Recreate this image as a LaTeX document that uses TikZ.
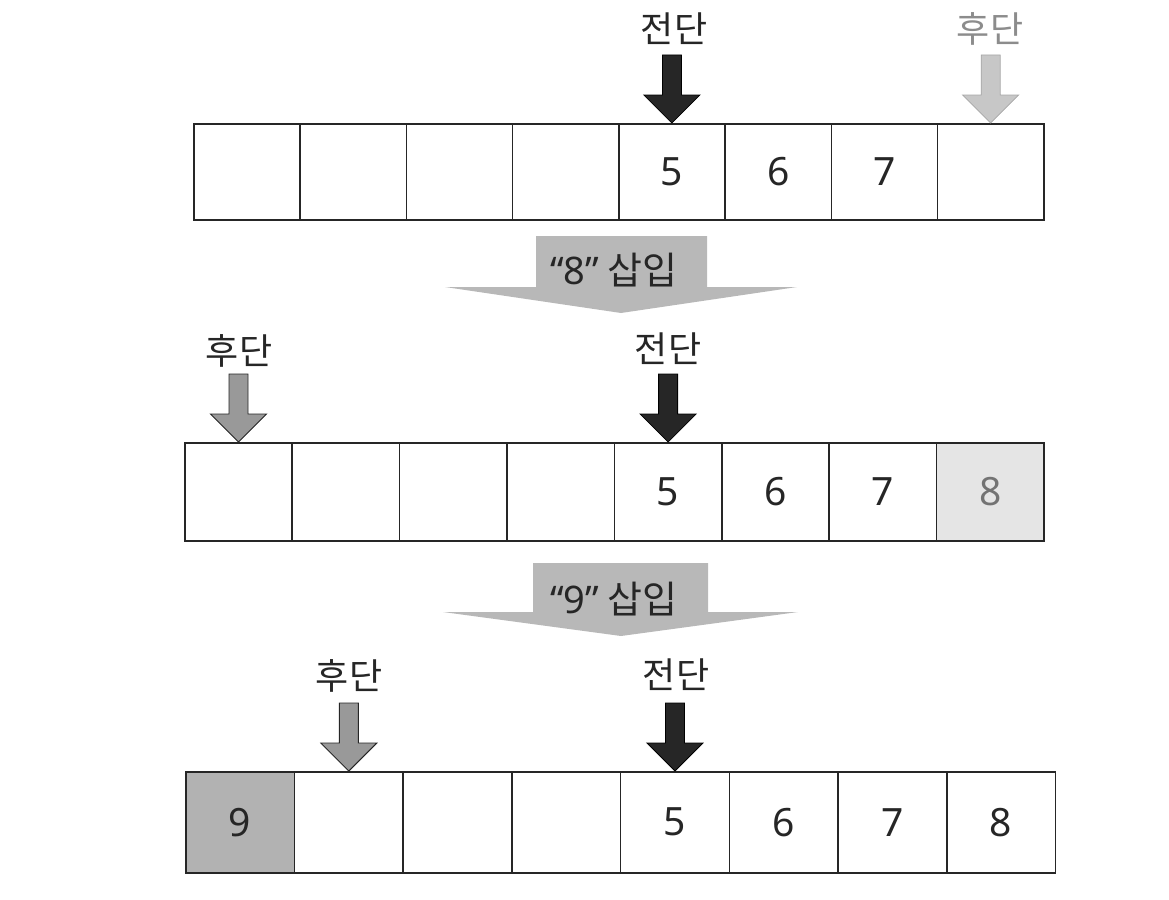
\documentclass[tikz,border=0pt]{standalone}
\usepackage{fontspec}
\setmainfont{Noto Sans CJK KR}
\newfontfamily\latinf{Noto Sans}
\begin{document}
\begin{tikzpicture}[x=1pt,y=-1pt,
  cellbox/.style={draw=black!85, line width=1.5pt, inner sep=0pt, anchor=north west,
    font=\latinf\fontsize{39}{39}\selectfont, text=black!85},
  lbl/.style={font=\fontsize{36}{36}\selectfont, text=black!85, inner sep=0pt},
  biglbl/.style={font=\fontsize{38}{38}\selectfont, text=black!85, inner sep=0pt},
  bigarrow/.style={fill=black!28},
  frontptr/.style={fill=black!85, draw=black, line width=0.8pt},
  rearlight/.style={fill=black!22, draw=black!35, line width=0.8pt},
  reardark/.style={fill=black!40, draw=black!85, line width=0.9pt},
  ptr/.pic={\path[pic actions] (0,0) -- (-28,-28) -- (-9.5,-28) -- (-9.5,-68)
     -- (9.5,-68) -- (9.5,-28) -- (28,-28) -- cycle;}
]
\useasboundingbox (0,0) rectangle (1169,899);

% ---------- row 1 ----------
\foreach \i/\t in {1/,2/,3/,4/,5/5,6/6,7/7,8/}
  \node[cellbox, minimum width=106.3pt, minimum height=96pt] (a\i) at ({193+(\i-1)*106.25},123) {\t};
\pic[frontptr] at (a5.north) {ptr};
\pic[rearlight] at (a8.north) {ptr};
\node[lbl] (af) at (674,29) {전단};
\node[lbl, text=black!45] (ar) at (990,29) {후단};

% ---------- big arrow 1 ----------
\fill[bigarrow] (536,236) -- (707,236) -- (707,287) -- (797,287) -- (621,313)
   -- (445,287) -- (536,287) -- cycle;
\node[biglbl] (ins8) at (614,270) {{\latinf “8”} 삽입};

% ---------- row 2 ----------
\foreach \i/\t in {1/,2/,3/,4/,5/5,6/6,7/7}
  \node[cellbox, minimum width=107.5pt, minimum height=98pt] (b\i) at ({184+(\i-1)*107.4},442) {\t};
\node[cellbox, fill=black!10, text=black!55, minimum width=107.5pt, minimum height=98pt] (b8) at ({184+7*107.4},442) {8};
\pic[reardark] at (b1.north) {ptr};
\pic[frontptr] at (b5.north) {ptr};
\node[lbl] (br) at (239,351) {후단};
\node[lbl] (bf) at (668,349) {전단};

% ---------- big arrow 2 ----------
\fill[bigarrow] (533,563) -- (708,563) -- (708,612) -- (798,612) -- (621,636)
   -- (443,612) -- (533,612) -- cycle;
\node[biglbl] (ins9) at (614,599) {{\latinf “9”} 삽입};

% ---------- row 3 ----------
\node[cellbox, fill=black!30, minimum width=108.8pt, minimum height=101pt] (c1) at (185,771) {9};
\foreach \i/\t in {2/,3/,4/,5/5,6/6,7/7,8/8}
  \node[cellbox, minimum width=108.8pt, minimum height=101pt] (c\i) at ({185+(\i-1)*108.7},771) {\t};
\pic[reardark] at (c2.north) {ptr};
\pic[frontptr] at (c5.north) {ptr};
\node[lbl] (cr) at (349,676) {후단};
\node[lbl] (cf) at (676,675) {전단};
\end{tikzpicture}
\end{document}
